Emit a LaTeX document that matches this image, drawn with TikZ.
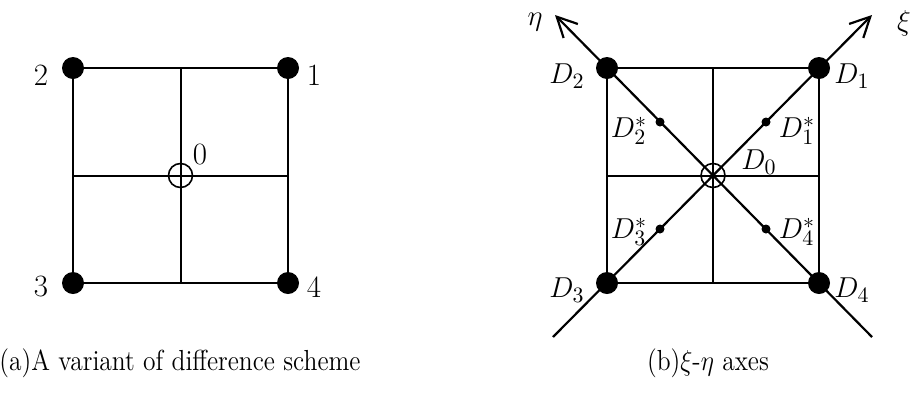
\documentclass[tikz,border=0pt]{standalone}
\usetikzlibrary{arrows.meta}
\begin{document}
\begin{tikzpicture}[x=0.5pt,y=-0.5pt,line width=1pt,
  outer/.style={line width=1.2pt},
  bigdot/.style={circle,fill=black,inner sep=0pt,minimum size=11pt},
  smalldot/.style={circle,fill=black,inner sep=0pt,minimum size=4.5pt},
  ctr/.style={circle,draw=black,line width=0.8pt,inner sep=0pt,minimum size=12pt},
  lbl/.style={font=\fontsize{15.5}{18}\selectfont,inner sep=0pt},
  captxt/.style={font=\fontsize{14.5}{17}\selectfont,inner sep=0pt},
  axis/.style={line width=1.1pt,-{Straight Barb[length=10pt,width=10pt,line width=1.1pt]}}]
\useasboundingbox (0,0) rectangle (914,392);
% ---------- (a) ----------
\coordinate (a1) at (288,68);
\coordinate (a2) at (73,68);
\coordinate (a3) at (73,283);
\coordinate (a4) at (288,283);
\coordinate (at) at (180.5,68);
\coordinate (ab) at (180.5,283);
\coordinate (al) at (73,175.5);
\coordinate (ar) at (288,175.5);
\coordinate (a0) at (180.5,175.5);
\draw[outer] (a2) -- (a1) -- (a4) -- (a3) -- cycle;
\draw (at) -- (ab);
\draw (al) -- (ar);
\node[ctr] (ca) at (a0) {};
\foreach \i in {1,2,3,4} {\node[bigdot] (da\i) at (a\i) {};}
\node[lbl] (la1) at (314,75) {1};
\node[lbl] (la2) at (41,75) {2};
\node[lbl] (la3) at (41,286) {3};
\node[lbl] (la4) at (314,287) {4};
\node[lbl] (la0) at (200,154) {0};
% ---------- (b) ----------
\coordinate (b1) at (819,68);
\coordinate (b2) at (607,68);
\coordinate (b3) at (607,283);
\coordinate (b4) at (819,283);
\coordinate (bt) at (713,68);
\coordinate (bb) at (713,283);
\coordinate (bl) at (607,175.5);
\coordinate (br) at (819,175.5);
\coordinate (b0) at (713,175.5);
\coordinate (xitip) at (872,15);
\coordinate (etatip) at (555,15);
\coordinate (ll) at (553,337);
\coordinate (lr) at (872,337);
\coordinate (s1) at (766,122);
\coordinate (s2) at (660,122);
\coordinate (s3) at (660,229);
\coordinate (s4) at (766,229);
\draw[outer] (b2) -- (b1) -- (b4) -- (b3) -- cycle;
\draw (bt) -- (bb);
\draw (bl) -- (br);
\draw[axis] (ll) -- (xitip);
\draw[axis] (lr) -- (etatip);
\node[ctr] (cb) at (b0) {};
\foreach \i in {1,2,3,4} {\node[bigdot] (db\i) at (b\i) {};
  \node[smalldot] (ds\i) at (s\i) {};}
\node[lbl] (xi) at (904,23) {$\xi$};
\node[lbl] (eta) at (535,22) {$\eta$};
\node[lbl] (lb1) at (852,76) {$D_1$};
\node[lbl] (lb2) at (567,76) {$D_2$};
\node[lbl] (lb3) at (567,290) {$D_3$};
\node[lbl] (lb4) at (852,290) {$D_4$};
\node[lbl] (lb0) at (759,162) {$D_0$};
\node[lbl] (ls1) at (797,131) {$D_1^*$};
\node[lbl] (ls2) at (629,131) {$D_2^*$};
\node[lbl] (ls3) at (629,232) {$D_3^*$};
\node[lbl] (ls4) at (797,232) {$D_4^*$};
% ---------- captions ----------
\node[captxt,anchor=base] (capa) at (180,370) {\scalebox{0.88}[1]{(a)A variant of difference scheme}};
\node[captxt,anchor=base] (capb) at (708,370) {\scalebox{0.88}[1]{(b)$\xi$-$\eta$ axes}};
\end{tikzpicture}
\end{document}
